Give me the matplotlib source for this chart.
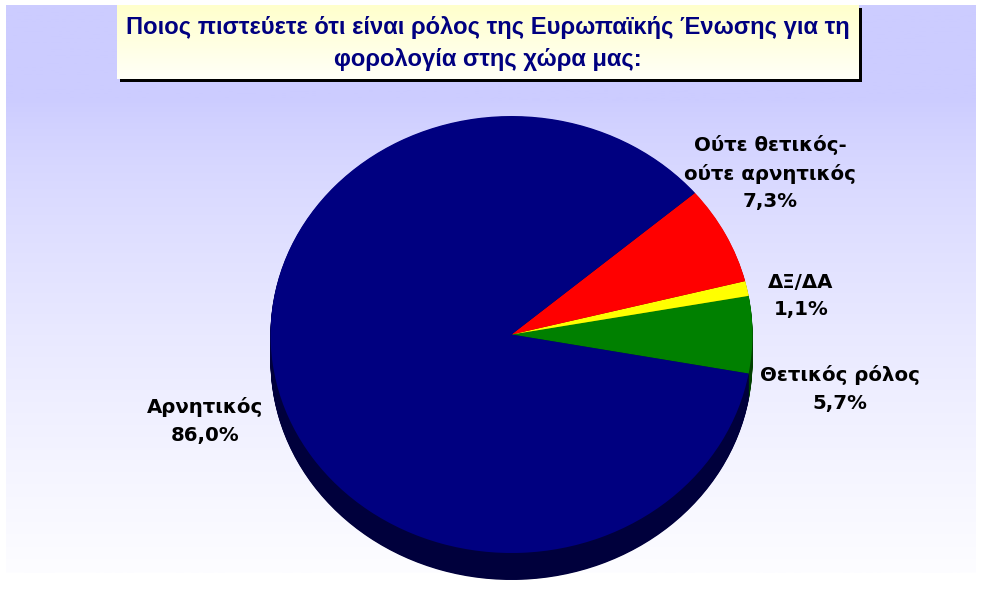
import numpy as np
import matplotlib
matplotlib.use("Agg")
import matplotlib.pyplot as plt
from matplotlib.patches import Rectangle

# ---- data ----
categories = ["Θετικός ρόλος", "ΔΞ/ΔΑ", "Ούτε θετικός-\nούτε αρνητικός", "Αρνητικός"]
values = [5.7, 1.1, 7.3, 86.0]
colors = ["#008000", "#FFFF00", "#FF0000", "#000080"]
side_colors = ["#004000", "#808000", "#800000", "#00003C"]
title = "Ποιος πιστεύετε ότι είναι ρόλος της Ευρωπαϊκής Ένωσης για τη\nφορολογία στης χώρα μας:"

W, H = 982, 603
fig = plt.figure(figsize=(W / 100, H / 100), dpi=100)
fig.patch.set_facecolor("white")

def fbox(x0, y0, x1, y1):
    # pixel box (top-left origin) -> figure fraction rect
    return [x0 / W, 1 - y1 / H, (x1 - x0) / W, (y1 - y0) / H]

# background gradient panel
py0, py1 = 5, 573
bg = fig.add_axes(fbox(6, py0, 976, py1))
bg.set_axis_off()
ys = np.linspace(py0, py1, 300)
top = np.array([204, 204, 255]) / 255.0
bottom = np.array([253, 253, 255]) / 255.0
w = np.clip((ys - 100) / (py1 - 100), 0, 1) ** 0.75
grad = (1 - w)[:, None] * top + w[:, None] * bottom
bg.imshow(grad[:, None, :], aspect="auto", extent=[0, 1, 0, 1], origin="upper")
bg.set_xlim(0, 1); bg.set_ylim(0, 1)

# pie axes
ax = fig.add_axes([0, 0, 1, 1])
ax.patch.set_alpha(0)
cx_px, cy_px, rx_px, ry_px, depth_px = 511.5, 334.5, 241.0, 218.5, 27.0
depth = depth_px / ry_px
startangle = -10.3
n_layers = 40
for i in range(n_layers, 0, -1):
    off = -depth * i / n_layers
    ax.pie(values, colors=side_colors, startangle=startangle, counterclock=True,
           center=(0, off), wedgeprops=dict(linewidth=0, antialiased=True))
ax.pie(values, colors=colors, startangle=startangle, counterclock=True,
       center=(0, 0), wedgeprops=dict(linewidth=0, antialiased=True))
ax.set_aspect("auto")
ax.set_xlim(-cx_px / rx_px, (W - cx_px) / rx_px)
ax.set_ylim(-(H - cy_px) / ry_px, cy_px / ry_px)
ax.set_axis_off()

# labels
label_pos = [(840, 389), (801, 296), (770, 173), (205, 421)]
for name, v, (px, py) in zip(categories, values, label_pos):
    txt = f"{name}\n{v:.1f}%".replace(".", ",")
    fig.text(px / W, 1 - py / H, txt, ha="center", va="center", fontsize=14.2,
             fontweight="bold", color="black", family="DejaVu Sans",
             linespacing=1.58)

# title box with shadow
bx0, by0, bx1, by1 = 117, 5, 859, 79
shadow = Rectangle(((bx0 + 3) / W, 1 - (by1 + 2.5) / H), (bx1 - bx0) / W, (by1 - by0) / H,
                   transform=fig.transFigure, facecolor="black", edgecolor="none", zorder=5)
fig.patches.append(shadow)
tb = fig.add_axes(fbox(bx0, by0, bx1, by1))
tb.set_zorder(6)
ty = np.array([255, 255, 204]) / 255.0
tg = np.linspace(0, 1, 64)
tgrad = (1 - tg)[:, None] * ty + tg[:, None] * np.array([1.0, 1.0, 0.97])
tb.imshow(tgrad[:, None, :], aspect="auto", extent=[0, 1, 0, 1], origin="upper")
tb.set_xlim(0, 1); tb.set_ylim(0, 1)
tb.set_xticks([]); tb.set_yticks([])
for s in tb.spines.values():
    s.set_visible(False)
fig.text((bx0 + bx1) / 2 / W, 1 - 43.5 / H, title, ha="center", va="center",
         fontsize=17.1, fontweight="bold", color="#000080", family="Liberation Sans",
         linespacing=1.48, zorder=10)

fig.savefig("out.png", dpi=100)
